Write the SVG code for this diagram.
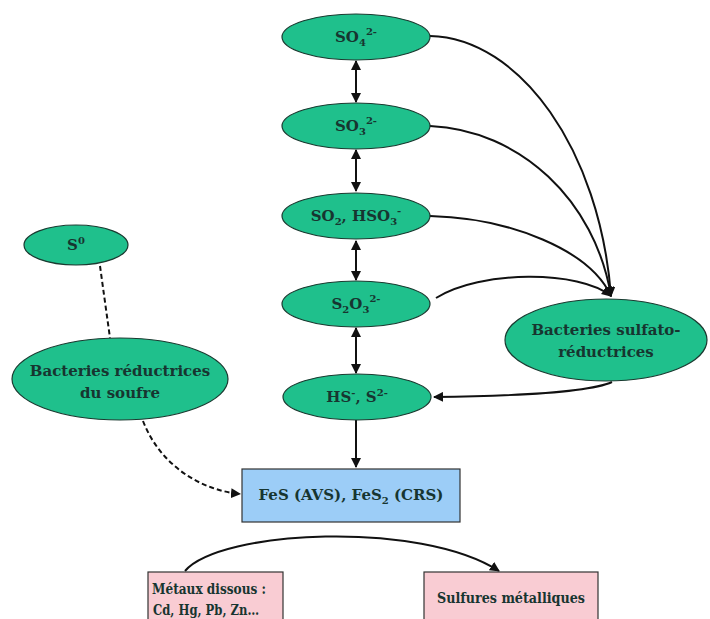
<svg xmlns="http://www.w3.org/2000/svg" width="710" height="619" viewBox="0 0 710 619">
<style>
.node ellipse{fill:#1fc08c;stroke:#1a3a30;stroke-width:1.2}
.box rect{stroke:#333;stroke-width:1.2}
text{font-family:'DejaVu Serif',serif;font-size:15px;font-weight:bold;fill:#173530;text-anchor:middle}
.c path,.c line{fill:none;stroke:#111;stroke-width:2}
.dash{stroke-dasharray:5,3}
</style>
<defs>
<marker id="ah" viewBox="0 0 10 10" refX="9" refY="5" markerWidth="5" markerHeight="5" orient="auto-start-reverse"><path d="M0,0 L10,5 L0,10 z" fill="#111"/></marker>
</defs>
<rect width="710" height="619" fill="#fff"/>
<g class="c" id="connectors">
<line x1="356" y1="61" x2="356" y2="102" marker-start="url(#ah)" marker-end="url(#ah)"/>
<line x1="356" y1="150" x2="356" y2="191" marker-start="url(#ah)" marker-end="url(#ah)"/>
<line x1="356" y1="241" x2="356" y2="280" marker-start="url(#ah)" marker-end="url(#ah)"/>
<line x1="356" y1="328" x2="356" y2="373" marker-start="url(#ah)" marker-end="url(#ah)"/>
<line x1="356" y1="420" x2="356" y2="467" marker-end="url(#ah)"/>
<path d="M430,36 C520,38 600,150 611,296" marker-end="url(#ah)"/>
<path d="M430,126 C520,130 595,200 611,296" marker-end="url(#ah)"/>
<path d="M430,216 C510,218 590,250 611,296" marker-end="url(#ah)"/>
<path d="M436,298 C480,270 580,270 611,296" marker-end="url(#ah)"/>
<path d="M612,382 C590,392 520,396 434,397" marker-end="url(#ah)"/>
<path class="dash" d="M100,266 L110,338"/>
<path class="dash" d="M143,421 C160,465 200,490 240,494" marker-end="url(#ah)"/>
<path d="M185,571 C220,530 420,520 499,571" marker-end="url(#ah)"/>
</g>
<g class="node" id="so4"><ellipse cx="356" cy="37" rx="74" ry="23"/><text x="356" y="42">SO<tspan font-size="10" dy="4">4</tspan><tspan font-size="10" dy="-11">2-</tspan></text></g>
<g class="node" id="so3"><ellipse cx="356" cy="126" rx="74" ry="23"/><text x="356" y="131">SO<tspan font-size="10" dy="4">3</tspan><tspan font-size="10" dy="-11">2-</tspan></text></g>
<g class="node" id="so2"><ellipse cx="356" cy="216" rx="74" ry="23"/><text x="356" y="221">SO<tspan font-size="10" dy="4">2</tspan><tspan dy="-4">, HSO</tspan><tspan font-size="10" dy="4">3</tspan><tspan font-size="10" dy="-11">-</tspan></text></g>
<g class="node" id="s2o3"><ellipse cx="356" cy="304" rx="74" ry="23"/><text x="356" y="309">S<tspan font-size="10" dy="4">2</tspan><tspan dy="-4">O</tspan><tspan font-size="10" dy="4">3</tspan><tspan font-size="10" dy="-11">2-</tspan></text></g>
<g class="node" id="hs"><ellipse cx="357" cy="397" rx="74" ry="23"/><text x="357" y="402">HS<tspan font-size="10" dy="-6">-</tspan><tspan dy="6">, S</tspan><tspan font-size="10" dy="-6">2-</tspan></text></g>
<g class="node" id="s0"><ellipse cx="76" cy="245" rx="52" ry="20"/><text x="76" y="250">S<tspan font-size="10" dy="-6">0</tspan></text></g>
<g class="node" id="brs"><ellipse cx="120" cy="379" rx="108" ry="41"/><text x="120" y="376">Bacteries réductrices</text><text x="120" y="398">du soufre</text></g>
<g class="node" id="bsr"><ellipse cx="606" cy="340" rx="101" ry="41"/><text x="606" y="335">Bacteries sulfato-</text><text x="606" y="357">réductrices</text></g>
<g class="box" id="fes"><rect x="242" y="469" width="218" height="53" fill="#9ccdf7"/><text x="351" y="500" font-size="16">FeS (AVS), FeS<tspan font-size="10" dy="4">2</tspan><tspan dy="-4"> (CRS)</tspan></text></g>
<g class="box" id="metaux"><rect x="148" y="572" width="135" height="60" fill="#f9ccd3"/><text x="209" y="594" font-size="14" textLength="114" lengthAdjust="spacingAndGlyphs">Métaux dissous :</text><text x="206" y="615" font-size="14" textLength="106" lengthAdjust="spacingAndGlyphs">Cd, Hg, Pb, Zn…</text></g>
<g class="box" id="sulfures"><rect x="424" y="572" width="174" height="60" fill="#f9ccd3"/><text x="511" y="603" font-size="14" textLength="148" lengthAdjust="spacingAndGlyphs">Sulfures métalliques</text></g>
</svg>
